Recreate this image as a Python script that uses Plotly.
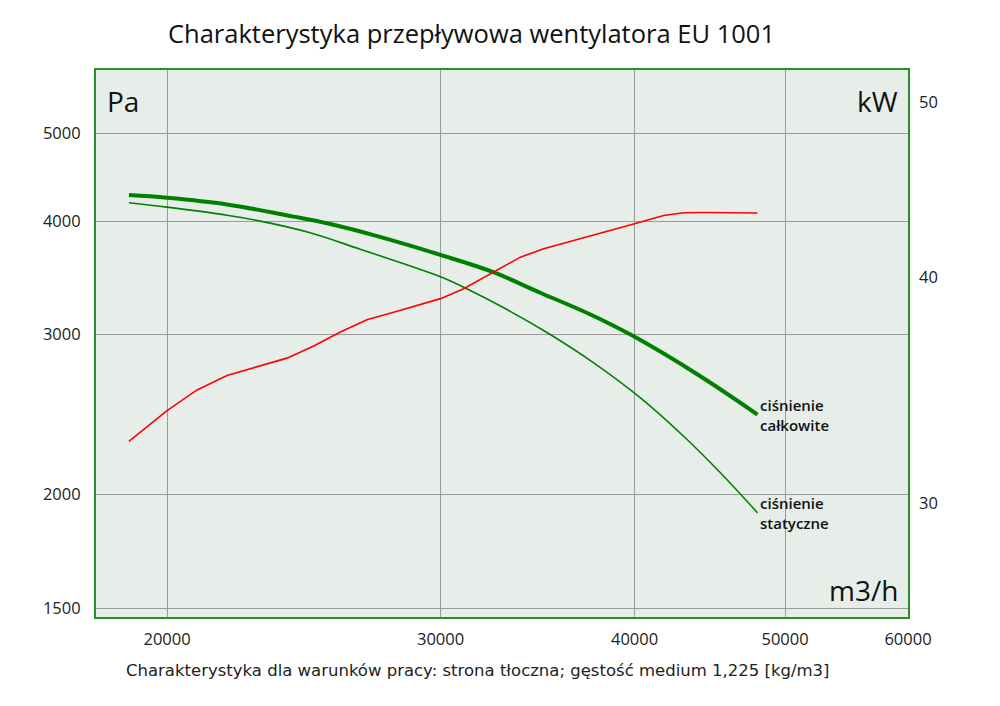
import numpy as np
import plotly.graph_objects as go

# flow [m3/h] and pressure [Pa] / power [kW]
flow_total = [18900, 20000, 21860, 24130, 25350, 27310, 30000, 32380, 34780, 37470,
              39950, 44100, 48000]
p_total = [4273, 4244, 4173, 4046, 3978, 3851, 3672, 3519, 3336, 3157,
           2987, 2700, 2450]

flow_static = [18900, 20000, 21860, 22970, 24730, 26630, 28690, 30000, 31050, 33110,
               35300, 37650, 40350, 43020, 45430, 48000]
p_static = [4191, 4144, 4060, 4000, 3884, 3725, 3569, 3474, 3383, 3197,
            3001, 2793, 2556, 2319, 2114, 1910]

flow_power = [18900, 20000, 20910, 21860, 23890, 24860, 25860, 26900, 28130, 30000, 31050,
              32300, 33770, 34960, 37280, 38780, 40000, 41760, 43020, 44320, 46110, 48000]
power = [32.45, 33.75, 34.65, 35.29, 36.08, 36.64, 37.30, 37.89, 38.30, 38.92, 39.41,
         40.17, 41.03, 41.47, 42.09, 42.49, 42.81, 43.27, 43.42, 43.43, 43.40, 43.40]

x_ticks = [20000, 30000, 40000, 50000, 60000]
pa_ticks = [1500, 2000, 3000, 4000, 5000]
kw_ticks = [30, 40, 50]

title_text = "Charakterystyka przepływowa wentylatora EU 1001"
caption = "Charakterystyka dla warunków pracy: strona tłoczna; gęstość medium 1,225 [kg/m3]"

FONT = "Open Sans"
GREEN = "#008000"

fig = go.Figure()
fig.add_trace(go.Scatter(x=flow_total, y=p_total, mode="lines",
                         line=dict(color=GREEN, width=4, shape="spline", smoothing=1),
                         showlegend=False))
fig.add_trace(go.Scatter(x=flow_static, y=p_static, mode="lines",
                         line=dict(color=GREEN, width=1.6, shape="spline", smoothing=1),
                         showlegend=False))
fig.add_trace(go.Scatter(x=flow_power, y=power, mode="lines", yaxis="y2",
                         line=dict(color="#ff0000", width=1.6),
                         showlegend=False))

ann = []
ann.append(dict(text=title_text, xref="paper", yref="paper", x=0.463, y=1.0, yshift=37,
                showarrow=False, xanchor="center", yanchor="middle",
                font=dict(family=FONT, size=25.5, color="#111")))
ann.append(dict(text=caption, xref="paper", yref="paper", x=0.471, y=0, yshift=-53,
                showarrow=False, xanchor="center", yanchor="middle",
                font=dict(family="DejaVu Sans", size=16.5, color="#222")))
ann.append(dict(text="Pa", xref="paper", yref="paper", x=0, y=1, xshift=9, yshift=-31,
                showarrow=False, xanchor="left", yanchor="middle",
                font=dict(family=FONT, size=28, color="#111")))
ann.append(dict(text="kW", xref="paper", yref="paper", x=1, y=1, xshift=-8, yshift=-31,
                showarrow=False, xanchor="right", yanchor="middle",
                font=dict(family=FONT, size=28, color="#111")))
ann.append(dict(text="m3/h", xref="paper", yref="paper", x=1, y=0, xshift=-8, yshift=27,
                showarrow=False, xanchor="right", yanchor="middle",
                font=dict(family=FONT, size=28, color="#111")))
ann.append(dict(text="ciśnienie<br>całkowite", xref="x", yref="y",
                x=np.log10(flow_total[-1]), y=np.log10(p_total[-1]), xshift=0,
                showarrow=False, xanchor="left", yanchor="middle", align="left",
                font=dict(family=FONT, size=15, color="#111", weight=600)))
ann.append(dict(text="ciśnienie<br>statyczne", xref="x", yref="y",
                x=np.log10(flow_static[-1]), y=np.log10(p_static[-1]), xshift=0,
                showarrow=False, xanchor="left", yanchor="middle", align="left",
                font=dict(family=FONT, size=15, color="#111", weight=600)))

# page body has an 8px margin, margins below compensate for it
fig.update_layout(
    width=1000, height=706,
    margin=dict(l=88, r=100, t=62, b=97),
    paper_bgcolor="white",
    plot_bgcolor="#e7eeea",
    font=dict(family=FONT, size=16.5, color="#222"),
    annotations=ann,
    xaxis=dict(type="log", range=[np.log10(18000), np.log10(60000)],
               tickvals=x_ticks, ticktext=[str(v) for v in x_ticks],
               showgrid=True, gridcolor="#9a9a9a", gridwidth=1,
               showline=True, linecolor="#2b8f2b", linewidth=2, mirror=True,
               ticks="", ticklabelstandoff=6, zeroline=False),
    yaxis=dict(type="log", range=[np.log10(1467), np.log10(5866)],
               tickvals=pa_ticks, ticktext=[str(v) for v in pa_ticks],
               showgrid=True, gridcolor="#9a9a9a", gridwidth=1,
               showline=True, linecolor="#2b8f2b", linewidth=2, mirror=True,
               ticks="", ticklabelstandoff=10, zeroline=False),
    yaxis2=dict(type="log", range=[np.log10(25.95), np.log10(52.07)],
                overlaying="y", side="right",
                tickvals=kw_ticks, ticktext=[str(v) for v in kw_ticks],
                showgrid=False, showline=False, ticks="", ticklabelstandoff=10,
                zeroline=False),
)

fig.write_html("out.html")
